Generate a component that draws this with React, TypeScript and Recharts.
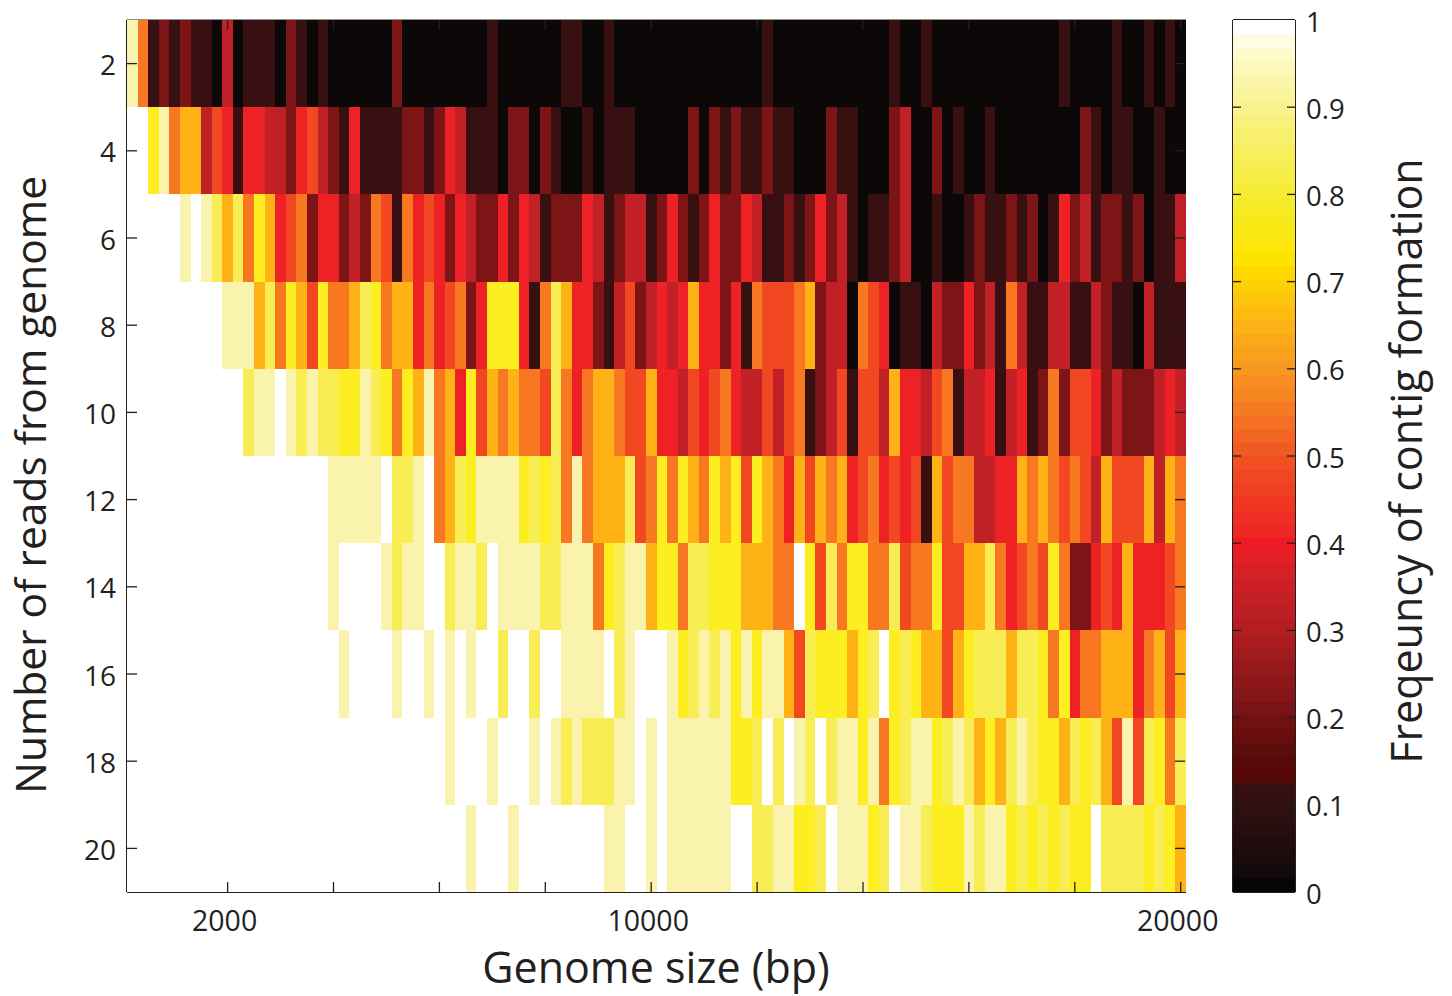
import React from 'react';
import { ScatterChart, Scatter, XAxis, YAxis } from 'recharts';

// Heat levels: 0 = darkest ... 11 = white
const levelColors = ['#0c0808','#381012','#7d1416','#c02026','#ee2224','#f24821','#f77820','#ffb216','#fcee21','#f9ed55','#faf3ae','#ffffff'];

const readCounts = [2,4,6,8,10,12,14,16,18,20];

const row2 = [10,6,1,2,1,2,1,1,0,3, 0,1,1,1,0,2,1,0,1,0, 0,0,0,0,0,2,0,0,0,0, 0,0,0,0,1,0,0,0,0,0, 0,1,1,0,0,1,0,0,0,0, 0,0,0,0,0,0,0,0,0,0, 1,0,0,0,0,0,0,0,0,0, 0,0,1,0,0,1,0,0,0,0, 0,0,0,0,0,0,0,0,1,0, 0,0,0,1,0,0,1,0,1,0];
const row4 = [11,11,8,10,6,7,7,3,5,4, 1,4,4,3,3,2,4,5,3,2, 1,4,1,1,1,1,2,2,1,2, 4,3,1,1,1,0,2,2,0,2, 1,0,0,1,0,1,1,1,0,0, 0,0,0,2,0,2,1,2,1,1, 2,1,1,0,0,0,2,1,1,0, 0,0,2,3,0,0,2,0,1,0, 0,1,0,0,0,0,0,0,0,0, 2,1,0,1,1,0,0,1,0,0];
const row6 = [11,11,11,11,11,10,11,10,9,7, 9,6,8,7,4,5,6,2,4,4, 2,3,2,6,5,1,6,4,5,4, 2,4,3,2,2,4,2,4,3,1, 2,2,2,4,3,1,2,3,3,1, 2,4,2,1,2,4,2,2,4,3, 1,1,2,1,2,4,2,3,1,0, 1,1,2,3,0,0,1,0,0,1, 2,1,1,2,1,2,0,1,4,2, 3,1,2,2,1,2,0,1,1,3];
const row8 = [11,11,11,11,11,11,11,11,11,10, 10,10,7,9,6,8,7,5,8,6, 6,7,9,8,6,7,7,4,6,4, 5,6,2,4,8,8,8,4,1,6, 9,7,4,4,2,1,3,5,2,3, 4,3,4,7,4,4,2,4,1,6, 5,5,5,6,7,2,3,3,0,6, 5,4,0,1,1,0,3,2,2,4, 2,3,1,6,3,1,1,3,3,1, 1,3,2,1,1,0,3,1,1,1];
const row10 = [11,11,11,11,11,11,11,11,11,11, 11,9,10,10,11,10,9,10,9,9, 8,8,10,9,8,6,8,7,10,6, 7,4,8,5,7,6,7,6,6,5, 9,6,4,6,7,7,6,5,5,7, 4,4,3,5,4,5,6,4,3,3, 5,3,5,6,1,2,3,5,1,5, 5,3,7,4,4,3,5,6,1,3, 3,4,1,3,4,1,2,6,2,5, 5,4,2,3,2,2,2,3,4,3];
const row12 = [11,11,11,11,11,11,11,11,11,11, 11,11,11,11,11,11,11,11,11,10, 10,10,10,10,11,9,9,10,11,6, 7,9,8,10,10,10,10,8,9,8, 9,6,10,6,7,7,7,9,5,6, 8,6,8,7,6,8,7,8,5,8, 7,6,4,7,5,7,6,7,4,5, 6,4,5,4,5,1,7,5,6,6, 3,3,4,4,7,6,7,6,5,6, 5,3,7,5,5,5,7,3,7,6];
const row14 = [11,11,11,11,11,11,11,11,11,11, 11,11,11,11,11,11,11,11,11,10, 11,11,11,11,10,9,10,10,11,11, 9,10,10,9,11,10,10,10,10,9, 9,10,10,10,6,8,9,10,10,7, 8,8,6,9,9,8,8,8,7,7, 7,6,6,11,8,5,9,6,8,8, 6,6,9,5,6,6,8,5,5,7, 7,9,6,4,5,6,5,8,6,2, 2,4,5,4,7,4,4,4,5,6];
const row16 = [11,11,11,11,11,11,11,11,11,11, 11,11,11,11,11,11,11,11,11,11, 10,11,11,11,11,10,11,11,10,11, 10,11,10,11,11,9,11,11,9,11, 11,10,10,10,10,11,9,10,11,11, 11,10,8,9,10,9,10,8,10,8, 10,10,7,5,9,8,8,8,7,8, 9,11,8,9,8,7,7,5,7,8, 9,9,9,7,9,9,8,6,8,4, 6,6,7,7,7,4,6,7,5,7];
const row18 = [11,11,11,11,11,11,11,11,11,11, 11,11,11,11,11,11,11,11,11,11, 11,11,11,11,11,11,11,11,11,11, 10,11,11,11,10,11,11,11,10,11, 10,9,10,9,9,9,10,10,11,10, 11,10,10,10,10,10,10,8,8,9, 11,9,11,10,9,11,9,10,10,8, 10,6,8,9,10,10,8,9,10,9, 7,8,7,9,10,9,8,8,7,9, 8,9,7,5,10,5,9,8,6,9];
const row20 = [11,11,11,11,11,11,11,11,11,11, 11,11,11,11,11,11,11,11,11,11, 11,11,11,11,11,11,11,11,11,11, 11,11,10,11,11,11,10,11,11,11, 11,11,11,11,11,10,10,11,11,10, 11,10,10,10,10,10,10,11,11,9, 9,10,10,8,8,9,11,10,10,10, 8,9,11,10,10,9,8,8,8,10, 9,10,10,8,9,8,9,8,9,8, 8,11,9,9,9,9,8,9,8,7];
const rows = [row2,row4,row6,row8,row10,row12,row14,row16,row18,row20];

const sizeStep = 200;
const xTicks = [2000,4000,6000,8000,10000,12000,14000,16000,18000,20000];
const xLabels = [2000,10000,20000];
const cbTicks = [0,0.1,0.2,0.3,0.4,0.5,0.6,0.7,0.8,0.9,1];

const colorbarColors = ['#060404','#120a0a','#1a0c0c','#1f0d0d','#260e0e','#2c0f10','#301010','#361011','#560808','#5a0909','#5e0b0b','#680d0d','#701010','#7a1315','#851618','#8e1819','#98191b','#a01a1e','#aa1c20','#b41d22','#bc1e25','#c41f27','#cc1f27','#d62028','#e21f26','#ed1c24','#ee2624','#ef2e23','#ef3623','#f03e22','#f04622','#f14e22','#f15a22','#f26522','#f47022','#f57a21','#f68420','#f78e1f','#f8971d','#f9a11b','#faa918','#fcb216','#fdbb12','#fec40c','#ffcf06','#ffd800','#ffe200','#fde70d','#f9e914','#f7ea1c','#f6eb28','#f6ec36','#f7ed44','#f7ee52','#f8ef60','#f8f06e','#f9f17c','#f9f38c','#faf59a','#fbf6a8','#fcf8ba','#fdfacc','#fefce2','#ffffff'];

const heatData = rows.flatMap((vals, r) => vals.map((level, c) => ({ size: (c + 1) * sizeStep, reads: readCounts[r], level })));
const cbData = colorbarColors.map((color, i) => ({ x: 0.5, v: (i + 0.5) / colorbarColors.length, color }));

const FONT = '"Open Sans", sans-serif';
const INK = '#231f20';
const PLOT = { left: 127, top: 20, right: 1185, bottom: 892 };
const CELL_W = (PLOT.right - PLOT.left) / rows[0].length;
const CELL_H = (PLOT.bottom - PLOT.top) / rows.length;
const CB = { left: 1233, right: 1295 };
const CB_H = (PLOT.bottom - PLOT.top) / colorbarColors.length;

const HeatCell = (p: any) => (
  <rect x={p.cx - CELL_W / 2} y={p.cy - CELL_H / 2} width={CELL_W + 0.4} height={CELL_H + 0.4} shapeRendering="crispEdges" fill={levelColors[p.payload?.level ?? p.level]} />
);
const BarCell = (p: any) => (
  <rect x={CB.left} y={p.cy - CB_H / 2} width={CB.right - CB.left} height={CB_H + 0.4} shapeRendering="crispEdges" fill={p.payload?.color ?? p.color} />
);

const XTick = (p: any) => {
  const v = p.payload.value;
  return (
    <g>
      <line x1={p.x} x2={p.x} y1={PLOT.bottom} y2={PLOT.bottom - 10} stroke={INK} strokeWidth={1.3} />
      <line x1={p.x} x2={p.x} y1={PLOT.top} y2={PLOT.top + 10} stroke={INK} strokeWidth={1.3} />
      {xLabels.includes(v) && (
        <text x={p.x - 3} y={931} textAnchor="middle" fontFamily={FONT} fontSize={28.5} fill={INK}>{v}</text>
      )}
    </g>
  );
};
const YTick = (p: any) => (
  <g>
    <line x1={PLOT.left} x2={PLOT.left + 10} y1={p.y} y2={p.y} stroke={INK} strokeWidth={1.3} />
    <line x1={PLOT.right - 10} x2={PLOT.right} y1={p.y} y2={p.y} stroke={INK} strokeWidth={1.3} />
    <text x={116} y={p.y + 11.5} textAnchor="end" fontFamily={FONT} fontSize={28} fill={INK}>{p.payload.value}</text>
  </g>
);
const CbTick = (p: any) => {
  const v = p.payload.value;
  const inner = v > 0 && v < 1;
  return (
    <g>
      {inner && <line x1={CB.left} x2={CB.left + 8} y1={p.y} y2={p.y} stroke={INK} strokeWidth={1.3} />}
      {inner && <line x1={CB.right - 8} x2={CB.right} y1={p.y} y2={p.y} stroke={INK} strokeWidth={1.3} />}
      <text x={1306} y={p.y + 11.5} fontFamily={FONT} fontSize={27.5} fill={INK}>{v}</text>
    </g>
  );
};
const Title = ({ x, y, rot, size, children }: any) => (
  <text transform={`translate(${x} ${y})${rot ? ' rotate(-90)' : ''}`} textAnchor="middle" fontFamily={FONT} fontSize={size} fill={INK}>{children}</text>
);

export default function App() {
  return (
    <div style={{ position: 'absolute', left: 0, top: 0, width: 1452, height: 996, background: '#fff' }}>
      <div style={{ position: 'absolute', left: 0, top: 0 }}>
        <ScatterChart width={1452} height={996} margin={{ left: PLOT.left - 1, top: PLOT.top - 1, right: 1452 - PLOT.right - 1, bottom: 996 - PLOT.bottom - 1 }}>
          <Scatter data={heatData} xAxisId={0} yAxisId={0} shape={HeatCell} isAnimationActive={false} />
          <XAxis xAxisId={0} dataKey="size" type="number" domain={[100, 20100]} ticks={xTicks} interval={0} height={1} tickLine={false} tick={<XTick />} axisLine={{ stroke: INK, strokeWidth: 2 }}
            label={{ content: () => <Title x={656} y={983} size={43}>Genome size (bp)</Title> }} />
          <YAxis yAxisId={0} dataKey="reads" type="number" domain={[1, 21]} reversed ticks={readCounts} interval={0} width={1} tickLine={false} tick={<YTick />} axisLine={{ stroke: INK, strokeWidth: 2 }}
            label={{ content: () => <Title x={46} y={485} rot size={42.5}>Number of reads from genome</Title> }} />
          <XAxis xAxisId="top" orientation="top" type="number" domain={[100, 20100]} height={1} tick={false} tickLine={false} axisLine={{ stroke: '#6d6e71', strokeWidth: 1.5 }} />
        </ScatterChart>
      </div>
      <div style={{ position: 'absolute', left: 0, top: 0 }}>
        <ScatterChart width={1452} height={996} margin={{ left: CB.left - 1, top: PLOT.top - 1, right: 1452 - CB.right - 1, bottom: 996 - PLOT.bottom - 1 }}>
          <Scatter data={cbData} xAxisId={0} yAxisId={0} shape={BarCell} isAnimationActive={false} />
          <XAxis xAxisId={0} dataKey="x" type="number" domain={[0, 1]} height={1} tick={false} tickLine={false} axisLine={{ stroke: INK, strokeWidth: 2 }} />
          <YAxis yAxisId={0} dataKey="v" type="number" domain={[0, 1]} ticks={cbTicks} interval={0} width={1} tickLine={false} tick={<CbTick />} axisLine={{ stroke: INK, strokeWidth: 2 }}
            label={{ content: () => <Title x={1422} y={461} rot size={43}>Freqeuncy of contig formation</Title> }} />
          <XAxis xAxisId="top" orientation="top" type="number" domain={[0, 1]} height={1} tick={false} tickLine={false} axisLine={{ stroke: INK, strokeWidth: 2 }} />
          <YAxis yAxisId="right" orientation="right" type="number" domain={[0, 1]} width={1} tick={false} tickLine={false} axisLine={{ stroke: INK, strokeWidth: 2 }} />
        </ScatterChart>
      </div>
    </div>
  );
}
